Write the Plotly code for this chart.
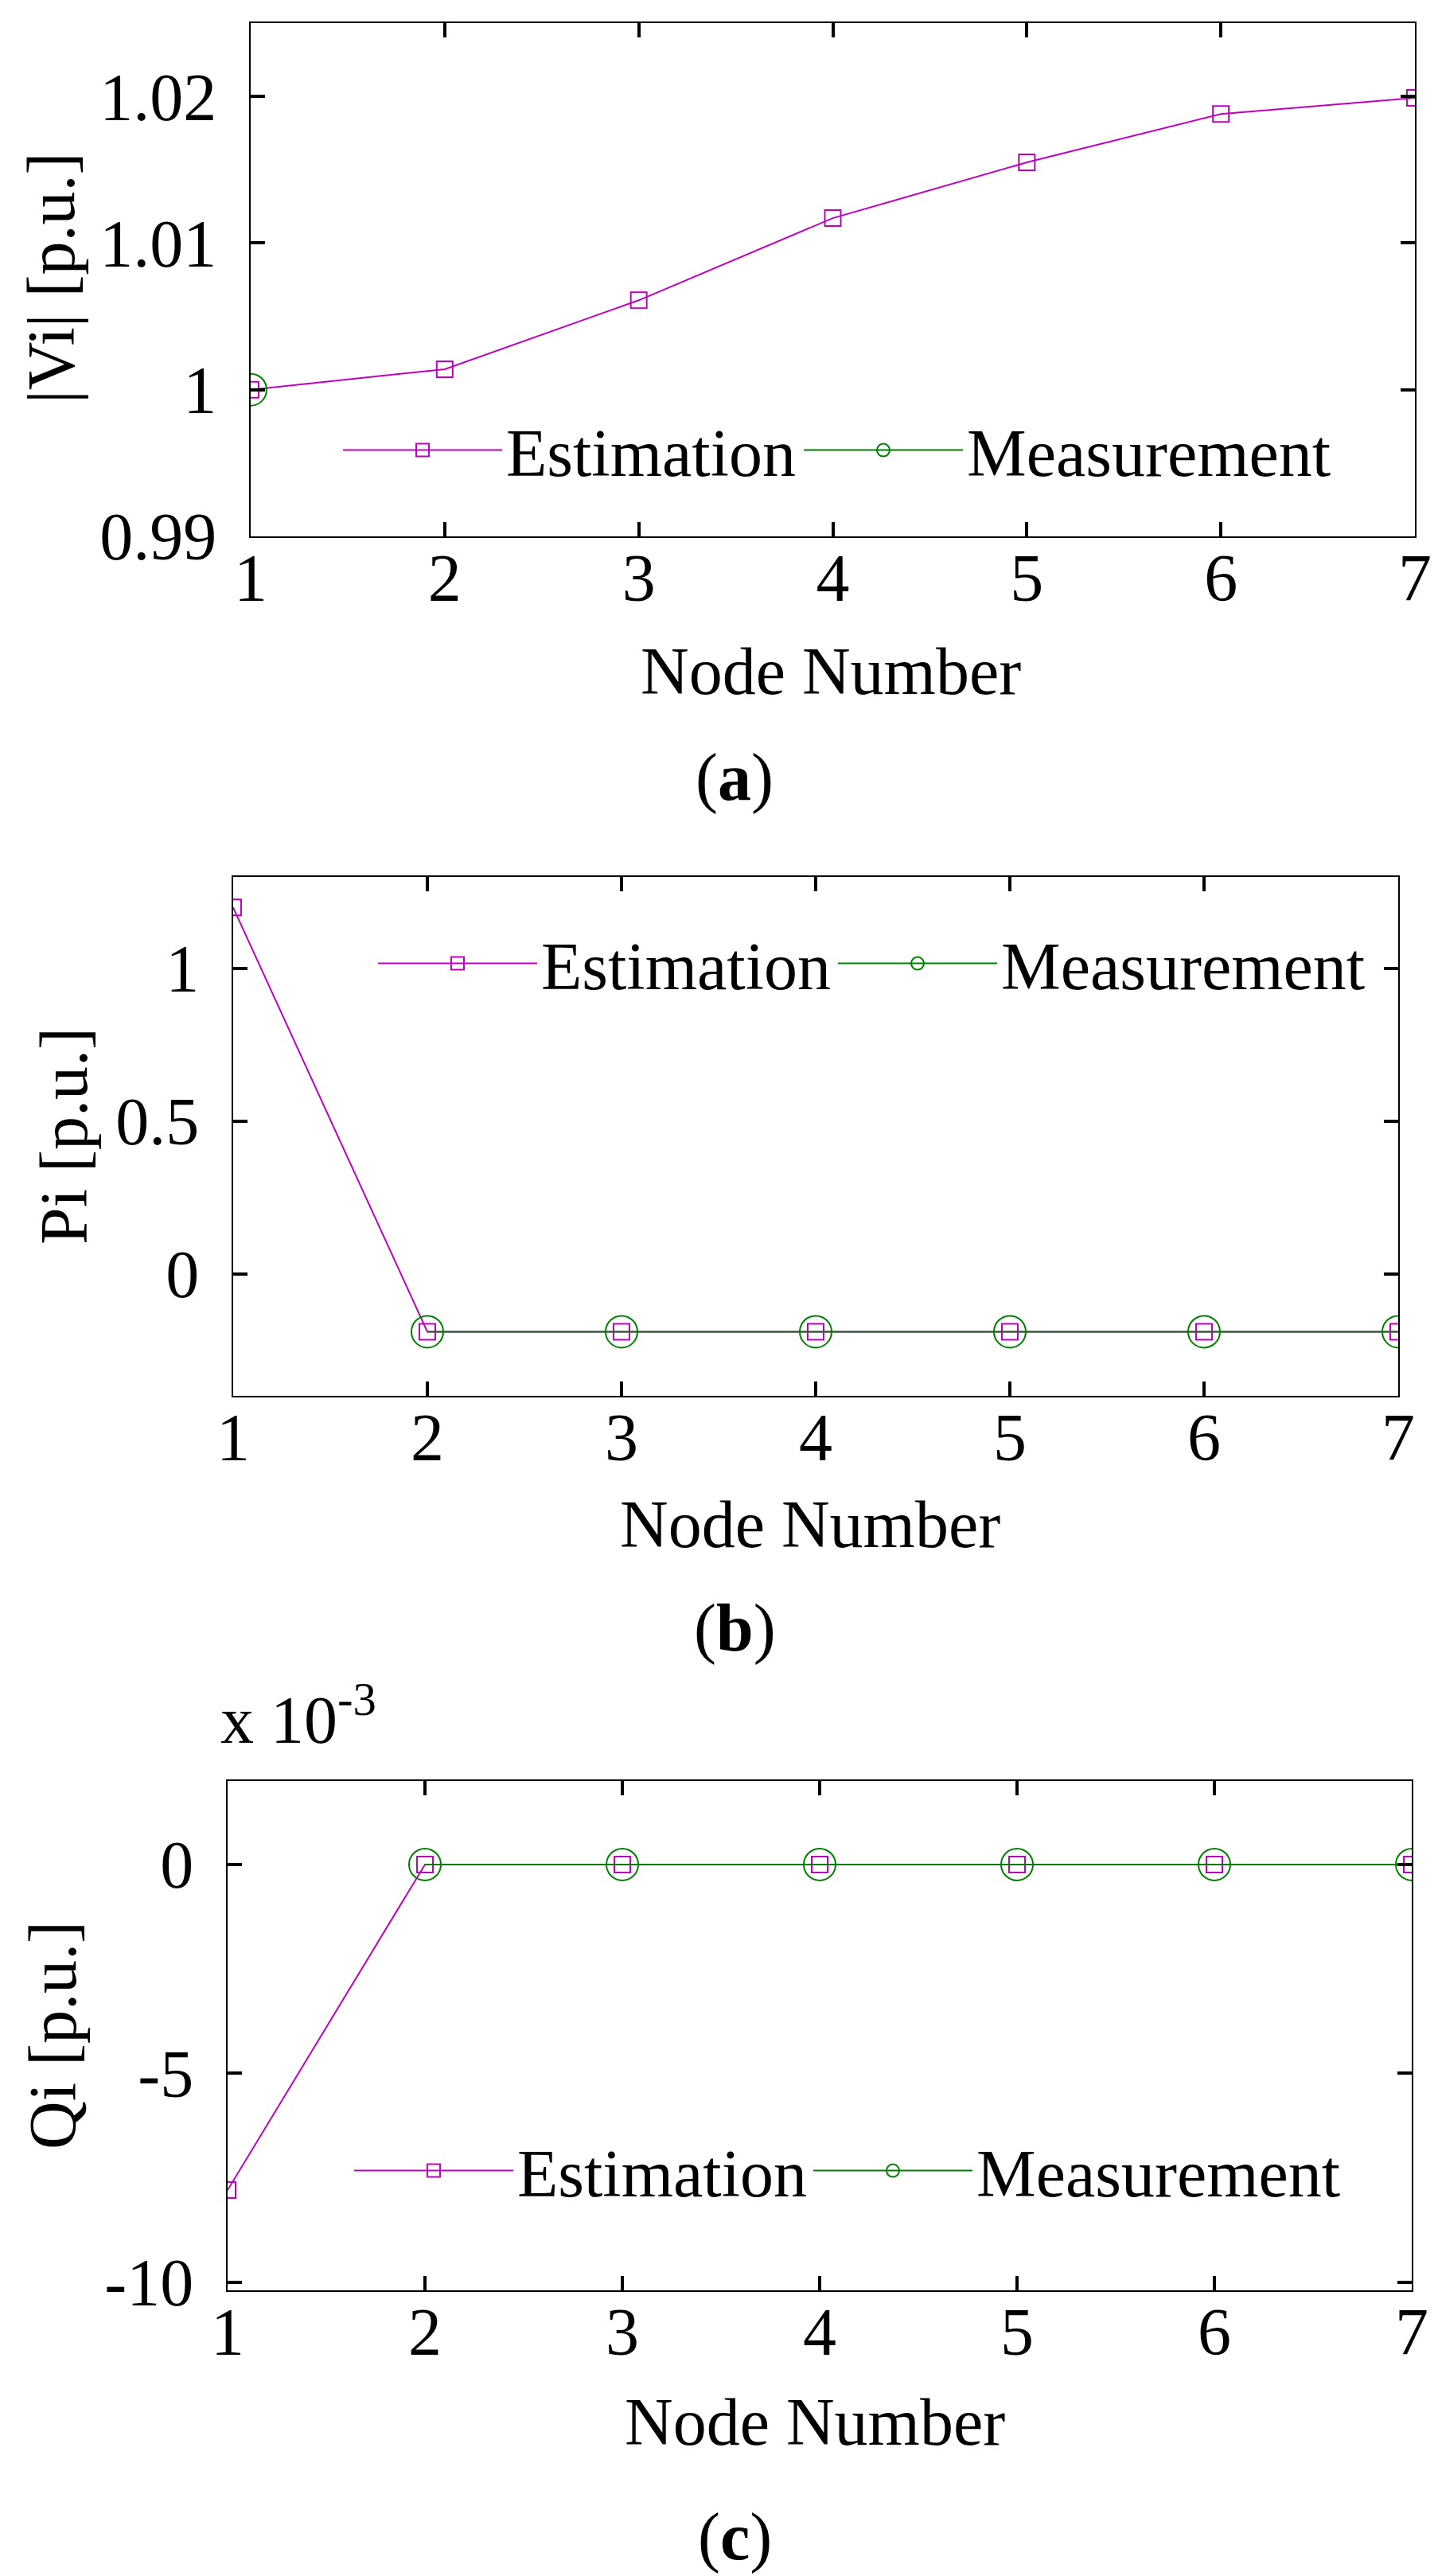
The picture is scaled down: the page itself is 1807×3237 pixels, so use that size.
import plotly.graph_objects as go

nodes = [1, 2, 3, 4, 5, 6, 7]

v_est = [1.0000, 1.0014, 1.0061, 1.0117, 1.0155, 1.0188, 1.0199]
v_meas = [1.0000, None, None, None, None, None, None]

p_est = [1.20, -0.19, -0.19, -0.19, -0.19, -0.19, -0.19]
p_meas = [None, -0.19, -0.19, -0.19, -0.19, -0.19, -0.19]

q_est = [-0.0078, 0, 0, 0, 0, 0, 0]
q_meas = [None, 0, 0, 0, 0, 0, 0]

x_ticks = ['1', '2', '3', '4', '5', '6', '7']
v_ticks = [0.99, 1.0, 1.01, 1.02]
v_labels = ['0.99', '1', '1.01', '1.02']
p_ticks = [0, 0.5, 1]
p_labels = ['0', '0.5', '1']
q_ticks = [-0.01, -0.005, 0]
q_labels = ['-10', '-5', '0']

MAG = '#c000c0'
GRN = '#008000'
FONT = 'Liberation Serif'
FS = 84
W, H = 1807, 3237


def py(px):
    # pixel row -> paper fraction
    return 1 - px / H


def px_(x):
    return x / W


fig = go.Figure()

panels = [
    (v_est, v_meas, '', 'legend', 'legend2'),
    (p_est, p_meas, '2', 'legend3', 'legend4'),
    (q_est, q_meas, '3', 'legend5', 'legend6'),
]
for est, meas, n, leg_e, leg_m in panels:
    fig.add_trace(go.Scatter(
        name='Estimation', x=nodes, y=est,
        xaxis='x' + n, yaxis='y' + n, legend=leg_e,
        mode='lines+markers',
        line=dict(color=MAG, width=2),
        marker=dict(symbol='square-open', size=20, color=MAG,
                    line=dict(width=2, color=MAG))))
    fig.add_trace(go.Scatter(
        name='Measurement', x=nodes, y=meas,
        xaxis='x' + n, yaxis='y' + n, legend=leg_m,
        mode='lines+markers',
        line=dict(color=GRN, width=2),
        marker=dict(symbol='circle-open', size=40, color=GRN,
                    line=dict(width=2, color=GRN))))

axis_common = dict(
    showline=True, linecolor='black', linewidth=2, mirror='ticks',
    ticks='inside', ticklen=18, tickwidth=4, tickcolor='black',
    showgrid=False, zeroline=False, automargin=False,
    tickfont=dict(family=FONT, size=FS, color='black'))

xdom = [(307, 1770), (285, 1749), (278, 1766)]
ydom = [(21, 666), (1094, 1746), (2230, 2870)]
yranges = [[0.99, 1.025], [-0.4, 1.3], [-0.0102, 0.002]]
yticks = [(v_ticks, v_labels), (p_ticks, p_labels), (q_ticks, q_labels)]

lay = {}
for i in range(3):
    n = '' if i == 0 else str(i + 1)
    lay['xaxis' + n] = dict(
        axis_common, domain=[px_(xdom[i][0]), px_(xdom[i][1])],
        anchor='y' + n, range=[1, 7], tickvals=nodes, ticktext=x_ticks,
        ticklabelstandoff=-22)
    lay['yaxis' + n] = dict(
        axis_common, domain=[py(ydom[i][1]), py(ydom[i][0])],
        anchor='x' + n, range=yranges[i],
        tickvals=yticks[i][0], ticktext=yticks[i][1],
        ticklabelstandoff=24)
fig.update_layout(**lay)

leg_common = dict(
    orientation='h', xanchor='left', yanchor='middle',
    bgcolor='rgba(0,0,0,0)', borderwidth=0,
    font=dict(family=FONT, size=FS, color='black'),
    itemwidth=200, itemclick=False, itemdoubleclick=False)
# (text start x, centre y) of each legend entry, in pixels
leg_pos = [(637, 558), (1216, 558), (681, 1203), (1259, 1203),
           (651, 2720), (1228, 2720)]
legs = {}
for k, (lx, ly) in enumerate(leg_pos):
    key = 'legend' if k == 0 else 'legend%d' % (k + 1)
    legs[key] = dict(leg_common, x=px_(lx - 219), y=py(ly))
fig.update_layout(**legs)

notes = [
    ('|Vi| [p.u.]', 56, 341, -90),
    ('Pi [p.u.]', 72, 1420, -90),
    ('Qi [p.u.]', 58, 2550, -90),
    ('Node Number', 1036, 835, 0),
    ('Node Number', 1010, 1908, 0),
    ('Node Number', 1016, 3035, 0),
    ('(<b>a</b>)', 915, 969, 0),
    ('(<b>b</b>)', 915, 2038, 0),
    ('(<b>c</b>)', 915, 3180, 0),
]
annotations = []
for txt, x, y, ang in notes:
    annotations.append(dict(
        text=txt, x=px_(x), y=py(y), xref='paper', yref='paper',
        xanchor='center', yanchor='middle', showarrow=False,
        textangle=ang, font=dict(family=FONT, size=FS, color='black')))
annotations.append(dict(
    text='x 10<sup>-3</sup>', x=px_(267), y=py(2147),
    xref='paper', yref='paper', xanchor='left', yanchor='middle',
    showarrow=False, font=dict(family=FONT, size=FS, color='black')))

fig.update_layout(
    width=W, height=H,
    margin=dict(l=0, r=0, t=0, b=0, autoexpand=False),
    paper_bgcolor='white', plot_bgcolor='white',
    showlegend=True,
    annotations=annotations,
    font=dict(family=FONT, size=FS, color='black'))

fig.write_html('out.html')
